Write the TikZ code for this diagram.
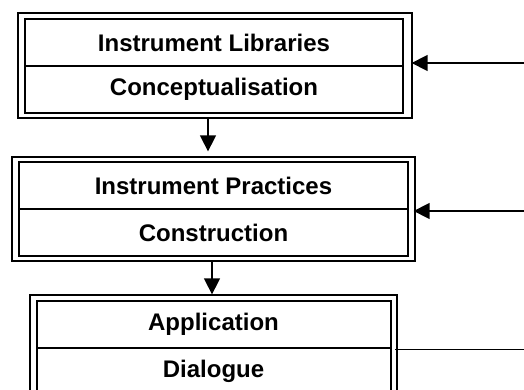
\documentclass[tikz,border=0pt]{standalone}
\usepackage{fontspec}
\setmainfont{Liberation Sans}
\usetikzlibrary{arrows.meta}
\begin{document}
\begin{tikzpicture}[x=1pt,y=1pt,
  outerbox/.style={draw,line width=1.3pt,inner sep=0pt,rectangle},
  innerbox/.style={draw,line width=1.5pt,inner sep=0pt,rectangle,minimum height=94pt},
  lbl/.style={font=\fontsize{24}{28}\selectfont\bfseries,inner sep=0pt},
  divider/.style={line width=1.4pt},
  arr/.style={line width=1.5pt,-{Triangle[length=16pt,width=16pt]}},
  thinline/.style={line width=1pt}]
\path[use as bounding box,clip] (0,0) rectangle (524,-390);
% Box 1
\node[outerbox,minimum width=394pt,minimum height=105pt] (b1o) at (215,-65.5) {};
\node[innerbox,minimum width=378pt] (b1i) at (214,-66) {};
\draw[divider] (b1i.west) -- (b1i.east);
\node[lbl] (b1t) at (214,-42.5) {Instrument Libraries};
\node[lbl] (b1b) at (214,-89.5) {Conceptualisation};
% Box 2
\node[outerbox,minimum width=403pt,minimum height=104pt] (b2o) at (213.5,-209) {};
\node[innerbox,minimum width=389pt] (b2i) at (213.5,-209) {};
\draw[divider] (b2i.west) -- (b2i.east);
\node[lbl] (b2t) at (213.5,-185.5) {Instrument Practices};
\node[lbl] (b2b) at (213.5,-232.5) {Construction};
% Box 3
\node[outerbox,minimum width=367pt,minimum height=106pt] (b3o) at (213.5,-348) {};
\node[innerbox,minimum width=354pt] (b3i) at (214,-348) {};
\draw[divider] (b3i.west) -- (b3i.east);
\node[lbl] (b3t) at (213.5,-324) {Application};
\node[lbl] (b3b) at (213.5,-371) {Dialogue};
% connectors
\coordinate (v1) at (208,0);
\coordinate (v2) at (212,0);
\coordinate (r1) at (524,-63);
\coordinate (r2) at (524,-211);
\coordinate (r3) at (524,-349);
\draw[arr,shorten >=5pt] (b1o.south -| v1) -- (b2o.north -| v1);
\draw[arr] (b2o.south -| v2) -- (b3o.north -| v2);
\draw[arr,shorten >=-1pt] (r1) -- (b1o.east |- r1);
\draw[arr,shorten >=-2pt] (r2) -- (b2o.east |- r2);
\draw[thinline,shorten >=-3pt] (r3) -- (b3o.east |- r3);
\end{tikzpicture}
\end{document}
